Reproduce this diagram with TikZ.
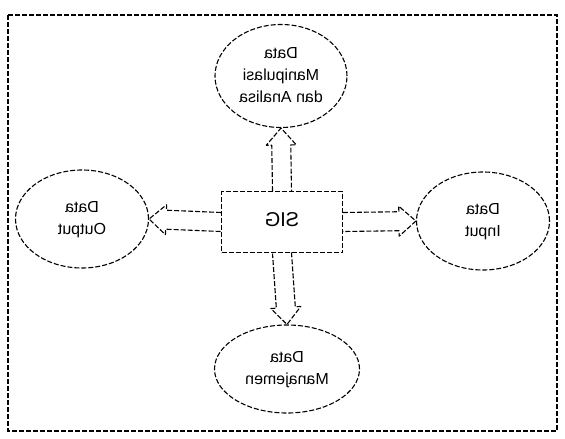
\documentclass[tikz,border=0pt]{standalone}
\usepackage{fontspec}
\setmainfont{Liberation Sans}
\usepackage{tikz}
\usetikzlibrary{arrows.meta,shapes.geometric,positioning,calc}

% the scanned figure is printed mirror-wise
\newcommand{\mirtxt}[1]{\reflectbox{\begin{tabular}{@{}c@{}}#1\end{tabular}}}

\tikzset{
  dashline/.style={line width=1.1pt, dash pattern=on 5pt off 2pt},
  bubble/.style={ellipse, draw, dashline, inner sep=0pt,
    font=\fontsize{16}{22}\selectfont},
  % open block arrow, outline only
  hollow/.style={dashline, line join=round, to path={
    ($(\tikztostart)!9.5pt!90:(\tikztotarget)$)
    -- ($($(\tikztotarget)!17pt!(\tikztostart)$)!9.5pt!90:(\tikztotarget)$)
    -- ($($(\tikztotarget)!17pt!(\tikztostart)$)!15pt!90:(\tikztotarget)$)
    -- (\tikztotarget)
    -- ($($(\tikztotarget)!17pt!(\tikztostart)$)!15pt!-90:(\tikztotarget)$)
    -- ($($(\tikztotarget)!17pt!(\tikztostart)$)!9.5pt!-90:(\tikztotarget)$)
    -- ($(\tikztostart)!9.5pt!-90:(\tikztotarget)$)}},
}

\begin{document}
\begin{tikzpicture}[x=1pt, y=-1pt]
  \useasboundingbox (0,0) rectangle (565,439);
  \draw[dashline] (8,15) rectangle (557,431);

  \node[draw, dashline, minimum width=121pt, minimum height=61pt,
    font=\fontsize{20}{24}\selectfont] (sig) at (282,222) {\mirtxt{SIG}};
  \node[bubble, minimum width=132pt, minimum height=103pt] (manip) at (281,76)
    {\mirtxt{Data\\Manipulasi\\dan Analisa}};
  \node[bubble, minimum width=133pt, minimum height=98pt] (output) at (82,219)
    {\mirtxt{Data\\Output}};
  \node[bubble, minimum width=133pt, minimum height=98pt] (input) at (483,221)
    {\mirtxt{Data\\Input}};
  \node[bubble, minimum width=145pt, minimum height=88pt] (manaj) at (287,369)
    {\mirtxt{Data\\Manajemen}};

  \draw[hollow] (sig.north) to (manip.south);
  \draw[hollow] (sig.west) to (output.east);
  \draw[hollow] (sig.east) to (input.west);
  \draw[hollow] (sig.south) to (manaj.north);
\end{tikzpicture}
\end{document}
